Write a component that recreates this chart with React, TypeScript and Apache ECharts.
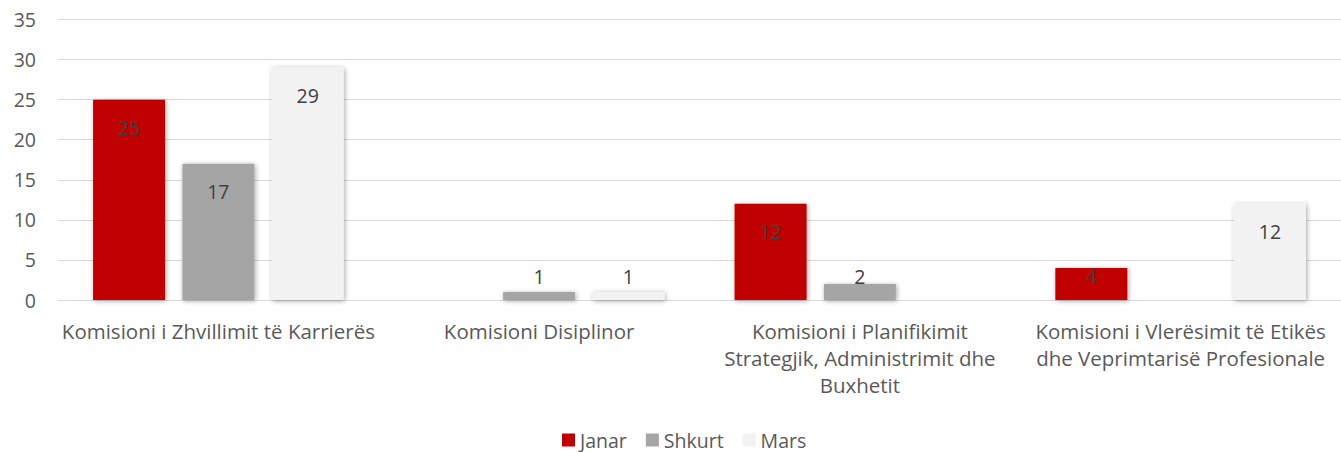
import React, { useEffect, useRef } from "react";
import * as echarts from "echarts";

const categories = [
  "Komisioni i Zhvillimit të Karrierës",
  "Komisioni Disiplinor",
  "Komisioni i Planifikimit\nStrategjik, Administrimit dhe\nBuxhetit",
  "Komisioni i Vlerësimit të Etikës\ndhe Veprimtarisë Profesionale",
];
const seriesNames = ["Janar", "Shkurt", "Mars"];
const janar = [25, null, 12, 4];
const shkurt = [17, 1, 2, null];
const mars = [29, 1, null, 12];
const colors = ["#C00000", "#A5A5A5", "#F2F2F2"];

const FONT = "'Open Sans', 'Noto Sans', sans-serif";
const FS = 19.5;

function buildData(vals: (number | null)[]) {
  return vals.map((v) => {
    if (v === null) return null;
    if (v < 6.5) {
      return {
        value: v,
        label: { position: "insideBottom", distance: 14 },
      };
    }
    return { value: v };
  });
}

export default function App() {
  const ref = useRef<HTMLDivElement>(null);
  useEffect(() => {
    document.body.style.margin = "0";
    const chart = echarts.init(ref.current!, undefined, { renderer: "svg" });
    const all = [janar, shkurt, mars];
    chart.setOption({
      animation: false,
      backgroundColor: "#ffffff",
      textStyle: { fontFamily: FONT },
      grid: { left: 58, top: 19.5, width: 1294, bottom: 152, containLabel: false },
      legend: {
        left: 562,
        top: 429,
        padding: 0,
        itemWidth: 13,
        itemHeight: 13,
        itemGap: 19,
        icon: "rect",
        data: seriesNames,
        textStyle: { color: "#595959", fontSize: FS, fontFamily: FONT, lineHeight: 22 },
      },
      xAxis: {
        type: "category",
        data: categories,
        axisLine: { show: true, lineStyle: { color: "#D9D9D9", width: 1 } },
        axisTick: { show: false },
        axisLabel: {
          color: "#595959",
          fontSize: 20.5,
          fontFamily: FONT,
          margin: 17,
          lineHeight: 27,
          interval: 0,
          align: "center",
        },
      },
      yAxis: {
        type: "value",
        min: 0,
        max: 35,
        interval: 5,
        axisLine: { show: false },
        axisTick: { show: false },
        splitLine: { lineStyle: { color: "#D9D9D9", width: 1 } },
        axisLabel: { color: "#595959", fontSize: FS, fontFamily: FONT, margin: 22 },
      },
      series: seriesNames.map((name, i) => ({
        name,
        type: "bar",
        barWidth: 72,
        barGap: "24%",
        data: buildData(all[i]),
        itemStyle: {
          color: colors[i],
          shadowColor: "rgba(0,0,0,0.35)",
          shadowBlur: 5,
          shadowOffsetX: 1,
          shadowOffsetY: 1,
        },
        label: {
          show: true,
          position: "insideTop",
          distance: 18,
          color: "#404040",
          fontSize: FS,
          fontFamily: FONT,
        },
      })),
    });
    return () => chart.dispose();
  }, []);
  return (
    <div
      ref={ref}
      style={{ position: "absolute", left: 0, top: 0, width: 1341, height: 452 }}
    />
  );
}
